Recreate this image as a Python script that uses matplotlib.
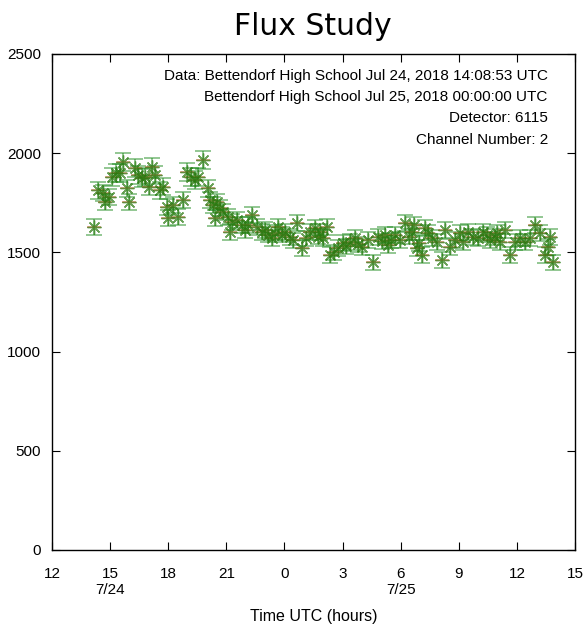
import numpy as np
import matplotlib
matplotlib.use('Agg')
import matplotlib.pyplot as plt

# hours since 7/24 00:00 UTC and flux counts
hours = [14.17, 14.36, 14.63, 14.74, 14.94, 15.10, 15.30, 15.51, 15.67, 15.87,
         15.98, 16.28, 16.44, 16.65, 16.80, 17.01, 17.16, 17.32, 17.58, 17.73,
         17.94, 17.99, 18.25, 18.50, 18.76, 18.97, 19.18, 19.38, 19.54, 19.80,
         20.05, 20.16, 20.31, 20.39, 20.52, 20.67, 20.83, 21.09, 21.19, 21.29,
         21.55, 21.81, 21.96, 22.12, 22.33, 22.58, 22.84, 23.00, 23.15, 23.36,
         23.51, 23.67, 23.87, 24.03, 24.29, 24.44, 24.65, 24.91, 25.11, 25.32,
         25.58, 25.73, 25.84, 25.99, 26.20, 26.35, 26.56, 26.76, 27.02, 27.18,
         27.38, 27.64, 27.80, 28.00, 28.31, 28.57, 28.83, 29.04, 29.19, 29.35,
         29.50, 29.71, 29.97, 30.22, 30.43, 30.59, 30.69, 30.84, 30.95, 31.10,
         31.26, 31.41, 31.62, 31.88, 32.13, 32.29, 32.55, 32.81, 33.06, 33.22,
         33.48, 33.73, 33.99, 34.25, 34.46, 34.61, 34.87, 34.97, 35.13, 35.39,
         35.64, 35.90, 36.16, 36.42, 36.68, 36.93, 37.19, 37.45, 37.61, 37.71,
         37.86]
flux = [1628, 1814, 1799, 1754, 1779, 1880, 1900, 1900, 1955, 1824,
        1754, 1925, 1890, 1875, 1880, 1830, 1930, 1890, 1814, 1830,
        1729, 1673, 1739, 1678, 1764, 1905, 1880, 1865, 1880, 1966,
        1824, 1764, 1739, 1673, 1754, 1724, 1703, 1678, 1603, 1653,
        1663, 1638, 1613, 1640, 1688, 1628, 1603, 1613, 1590, 1572,
        1600, 1628, 1590, 1603, 1577, 1560, 1648, 1522, 1570, 1603,
        1623, 1580, 1603, 1572, 1628, 1487, 1500, 1522, 1547, 1530,
        1552, 1572, 1540, 1527, 1562, 1451, 1577, 1555, 1588, 1537,
        1560, 1588, 1562, 1648, 1580, 1603, 1638, 1522, 1547, 1487,
        1623, 1600, 1572, 1552, 1462, 1613, 1527, 1562, 1598, 1552,
        1603, 1577, 1572, 1603, 1590, 1562, 1577, 1598, 1552, 1613,
        1487, 1552, 1572, 1552, 1572, 1638, 1598, 1487, 1527, 1577,
        1451]

xticks = [12, 15, 18, 21, 24, 27, 30, 33, 36, 39]
xticklabels = ['12', '15\n7/24', '18', '21', '0', '3', '6\n7/25', '9', '12', '15']
yticks = [0, 500, 1000, 1500, 2000, 2500]

info_lines = ['Data: Bettendorf High School Jul 24, 2018 14:08:53 UTC',
              'Bettendorf High School Jul 25, 2018 00:00:00 UTC',
              'Detector: 6115',
              'Channel Number: 2']

hours = np.array(hours)
flux = np.array(flux, dtype=float)
err = np.sqrt(flux)

plt.rcParams['font.family'] = ['Liberation Sans', 'DejaVu Sans']

fig = plt.figure(figsize=(5.84, 6.29), dpi=100)
ax = fig.add_axes([0.089, 0.1256, 0.8956, 0.7886])

ax.errorbar(hours, flux, yerr=err, fmt='none', ecolor='#1a8a1a', elinewidth=1.1,
            capsize=6, capthick=1.1, alpha=0.6, zorder=2)
ax.plot(hours, flux, linestyle='none', marker='_', markersize=10, markeredgewidth=1.2,
        color='#e86040', alpha=0.6, zorder=3)
ax.plot(hours, flux, linestyle='none', marker=(8, 2, 0), markersize=10, markeredgewidth=1.0,
        color='#2a7a10', alpha=0.7, zorder=4)

ax.set_xlim(12, 39)
ax.set_ylim(0, 2500)
ax.set_xticks(xticks)
ax.set_xticklabels(xticklabels, fontsize=11)
ax.set_yticks(yticks)
ax.set_yticklabels([str(v) for v in yticks], fontsize=11)
ax.tick_params(axis='x', direction='in', length=6, width=0.8, top=True, pad=12)
ax.tick_params(axis='y', direction='in', length=6, width=0.8, right=True, pad=8)
for side in ax.spines.values():
    side.set_linewidth(1.0)

ax.set_xlabel('Time UTC (hours)', fontsize=11.5, labelpad=9)
fig.text(0.536, 0.958, 'Flux Study', ha='center', va='center', fontsize=21.5, family='DejaVu Sans')

for i, line in enumerate(info_lines):
    ax.text(0.948, 0.955 - i * 0.0425, line, transform=ax.transAxes, ha='right', va='center',
            fontsize=11)

plt.savefig('out.png', dpi=100)
